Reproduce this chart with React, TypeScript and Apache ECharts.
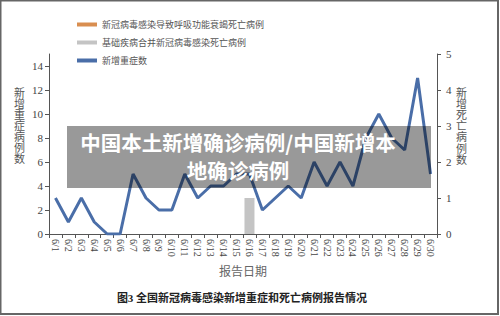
import React, { useEffect, useRef } from "react";
import * as echarts from "echarts";

const categories = [
  "6/1", "6/2", "6/3", "6/4", "6/5", "6/6", "6/7", "6/8", "6/9", "6/10",
  "6/11", "6/12", "6/13", "6/14", "6/15", "6/16", "6/17", "6/18", "6/19", "6/20",
  "6/21", "6/22", "6/23", "6/24", "6/25", "6/26", "6/27", "6/28", "6/29", "6/30",
];
const respiratoryDeaths = [0, 0, 0, 0, 0, 0, 0, 0, 0, 0, 0, 0, 0, 0, 0, 0, 0, 0, 0, 0, 0, 0, 0, 0, 0, 0, 0, 0, 0, 0];
const underlyingDeaths = [0, 0, 0, 0, 0, 0, 0, 0, 0, 0, 0, 0, 0, 0, 0, 1, 0, 0, 0, 0, 0, 0, 0, 0, 0, 0, 0, 0, 0, 0];
const newSevere = [3, 1, 3, 1, 0, 0, 5, 3, 2, 2, 5, 3, 4, 4, 5, 5, 2, 3, 4, 3, 6, 4, 6, 4, 8, 10, 8, 7, 13, 5];
const leftTicks = [0, 2, 4, 6, 8, 10, 12, 14];
const rightTicks = [0, 1, 2, 3, 4, 5];

const SERIF = "'Liberation Serif', 'Times New Roman', 'Noto Sans CJK SC', serif";
const SANS = "'Noto Sans CJK SC', 'Noto Sans', sans-serif";

export default function App() {
  const ref = useRef<HTMLDivElement>(null);
  useEffect(() => {
    if (!ref.current) return;
    const chart = echarts.init(ref.current, undefined, { renderer: "svg" });
    chart.setOption({
      animation: false,
      backgroundColor: "#ffffff",
      grid: { left: 49, right: 63, top: 54, bottom: 82, containLabel: false },
      legend: {
        orient: "vertical",
        left: 72,
        top: 15,
        itemWidth: 20,
        itemHeight: 4,
        itemGap: 9,
        icon: "rect",
        textStyle: { fontSize: 9, color: "#555", fontFamily: SANS },
        data: ["新冠病毒感染导致呼吸功能衰竭死亡病例", "基础疾病合并新冠病毒感染死亡病例", "新增重症数"],
      },
      xAxis: {
        type: "category",
        data: categories,
        boundaryGap: true,
        name: "报告日期",
        nameLocation: "middle",
        nameGap: 32,
        nameTextStyle: { fontSize: 12, color: "#666", fontFamily: SERIF },
        axisLine: { lineStyle: { color: "#555", width: 1 } },
        axisTick: { show: true, length: 4, lineStyle: { color: "#555" } },
        axisLabel: { rotate: -90, interval: 0, margin: 5, fontSize: 10, color: "#444", fontFamily: SERIF },
      },
      yAxis: [
        {
          type: "value",
          min: 0,
          max: 15,
          interval: 2,
          axisLine: { show: true, lineStyle: { color: "#555", width: 1 } },
          axisTick: { show: true, length: 4, lineStyle: { color: "#555" }, customValues: leftTicks },
          axisLabel: { fontSize: 11, color: "#444", fontFamily: SERIF, margin: 6, customValues: leftTicks },
          splitLine: { show: false },
        },
        {
          type: "value",
          min: 0,
          max: 5,
          interval: 1,
          position: "right",
          axisLine: { show: true, lineStyle: { color: "#555", width: 1 } },
          axisTick: { show: true, length: 4, lineStyle: { color: "#555" }, customValues: rightTicks },
          axisLabel: { fontSize: 11, color: "#444", fontFamily: SERIF, margin: 9, customValues: rightTicks },
          splitLine: { show: false },
        },
      ],
      series: [
        {
          name: "新冠病毒感染导致呼吸功能衰竭死亡病例",
          type: "bar",
          yAxisIndex: 1,
          stack: "deaths",
          barWidth: 10,
          itemStyle: { color: "#d98e50" },
          data: respiratoryDeaths,
        },
        {
          name: "基础疾病合并新冠病毒感染死亡病例",
          type: "bar",
          yAxisIndex: 1,
          stack: "deaths",
          barWidth: 10,
          itemStyle: { color: "#c4c4c4" },
          data: underlyingDeaths,
        },
        {
          name: "新增重症数",
          type: "line",
          yAxisIndex: 0,
          symbol: "none",
          lineStyle: { color: "#4a6ea8", width: 3 },
          itemStyle: { color: "#4a6ea8" },
          data: newSevere,
        },
      ],
      graphic: [
        {
          type: "text",
          left: 14,
          top: 87,
          style: {
            text: "新增重症病例数".split("").join("\n"),
            fontSize: 11,
            lineHeight: 11,
            fill: "#555",
            fontFamily: SERIF,
          },
        },
        {
          type: "text",
          left: 456,
          top: 87,
          style: {
            text: "新增死亡病例数".split("").join("\n"),
            fontSize: 11,
            lineHeight: 11.2,
            fill: "#555",
            fontFamily: SERIF,
          },
        },
        {
          type: "text",
          x: 242,
          y: 298,
          style: {
            text: "图3 全国新冠病毒感染新增重症和死亡病例报告情况",
            fontSize: 11,
            fontWeight: "bold",
            fill: "#222",
            fontFamily: SERIF,
            textAlign: "center",
            textVerticalAlign: "middle",
          },
        },
        {
          type: "rect",
          z: 100,
          shape: { x: 67, y: 126, width: 364, height: 62 },
          style: { fill: "rgba(0,0,0,0.4)" },
        },
        {
          type: "text",
          z: 101,
          x: 238,
          y: 142,
          style: {
            text: "中国本土新增确诊病例/中国新增本",
            fontSize: 20.5,
            fontWeight: "bold",
            fill: "#ffffff",
            fontFamily: SANS,
            textAlign: "center",
            textVerticalAlign: "middle",
          },
        },
        {
          type: "text",
          z: 101,
          x: 238,
          y: 170,
          style: {
            text: "地确诊病例",
            fontSize: 20.5,
            fontWeight: "bold",
            fill: "#ffffff",
            fontFamily: SANS,
            textAlign: "center",
            textVerticalAlign: "middle",
          },
        },
        {
          type: "rect",
          z: 100,
          shape: { x: 0.5, y: 0.5, width: 497.5, height: 313.5 },
          style: { fill: "none", stroke: "#666", lineWidth: 2 },
        },
      ],
    });
    return () => chart.dispose();
  }, []);
  return <div ref={ref} style={{ position: "absolute", left: 0, top: 0, width: 500, height: 316 }} />;
}
